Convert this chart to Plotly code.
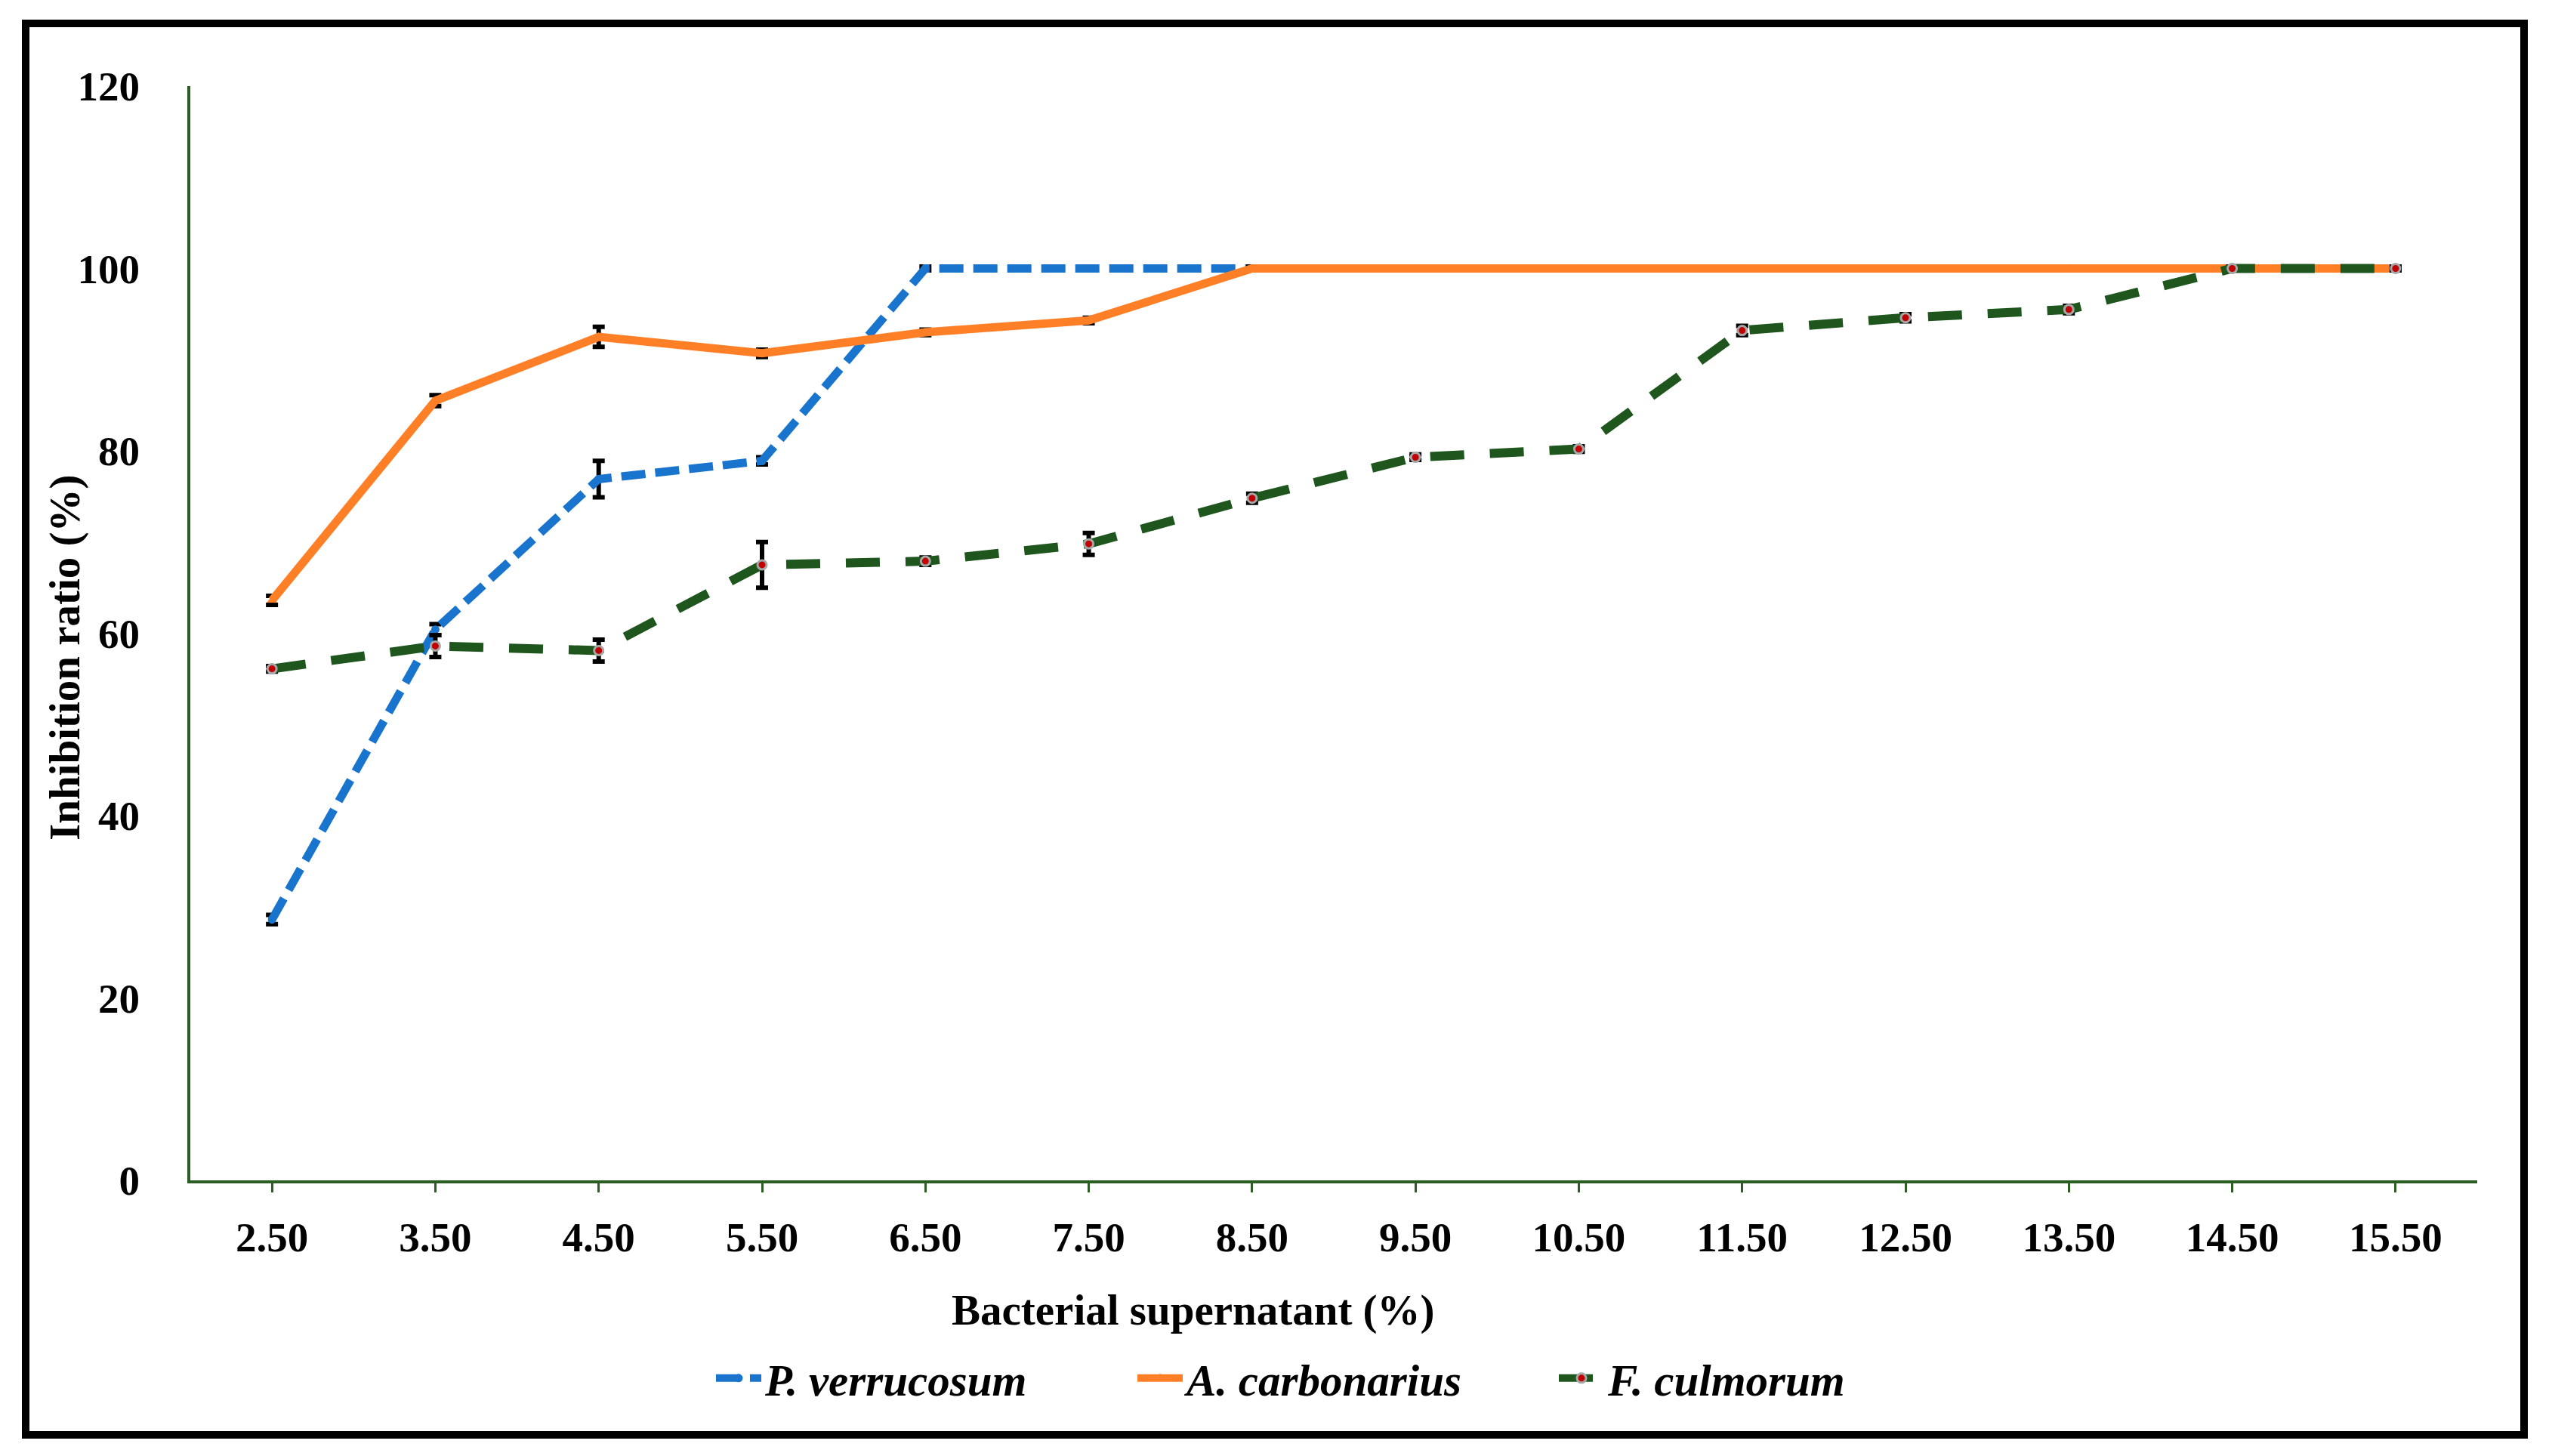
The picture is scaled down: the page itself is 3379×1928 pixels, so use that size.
import plotly.graph_objects as go

# ---- data ----
concentrations = ["2.50", "3.50", "4.50", "5.50", "6.50", "7.50", "8.50",
                  "9.50", "10.50", "11.50", "12.50", "13.50", "14.50", "15.50"]
p_verrucosum = [28.6, 60.4, 76.9, 78.9, 100, 100, 100, 100, 100, 100, 100, 100, 100, 100]
p_verrucosum_err = [0.5, 0.6, 2.0, 0.4, 0.2, 0.2, 0.2, 0.2, 0.2, 0.2, 0.2, 0.2, 0.2, 0.2]
a_carbonarius = [63.6, 85.5, 92.5, 90.7, 93.0, 94.3, 100, 100, 100, 100, 100, 100, 100, 100]
a_carbonarius_err = [0.5, 0.6, 1.1, 0.4, 0.3, 0.3, 0.2, 0.2, 0.2, 0.2, 0.2, 0.2, 0.2, 0.2]
f_culmorum = [56.1, 58.6, 58.1, 67.5, 67.9, 69.8, 74.8, 79.3, 80.2, 93.2, 94.6, 95.5, 100, 100]
f_culmorum_err = [0.3, 1.2, 1.2, 2.5, 0.4, 1.2, 0.5, 0.3, 0.3, 0.5, 0.4, 0.4, 0.2, 0.2]

W, H = 3379, 1928
OFF = 8  # default page body margin
# plot area in page pixels: x 252..3280, y 114..1563
L, T = 252 - OFF, 114 - OFF
R, B = W - (3280 - OFF), H - (1563 - OFF)
PW, PH = W - L - R, H - T - B

FONT = "Liberation Serif"
AXIS_GREEN = "#2a5e22"

def px_x(p):
    return (p - OFF - L) / PW

def px_y(p):
    return (H - B - (p - OFF)) / PH

ERR = dict(type="data", color="black", thickness=6, width=8)

fig = go.Figure()

fig.add_trace(go.Scatter(
    x=concentrations, y=p_verrucosum, name="<i>P. verrucosum</i>",
    mode="lines+markers",
    line=dict(color="#1874cd", width=11, dash="32px,13px"),
    marker=dict(color="#1874cd", size=11, symbol="circle"),
    error_y=dict(array=p_verrucosum_err, **ERR),
))
fig.add_trace(go.Scatter(
    x=concentrations, y=a_carbonarius, name="<i>A. carbonarius</i>",
    mode="lines+markers",
    line=dict(color="#ff7f27", width=11),
    marker=dict(color="#ff7f27", size=12, symbol="triangle-up"),
    error_y=dict(array=a_carbonarius_err, **ERR),
))
fig.add_trace(go.Scatter(
    x=concentrations, y=f_culmorum, name="<i>F. culmorum</i>",
    mode="lines+markers",
    line=dict(color="#1e561e", width=12, dash="45px,34px"),
    marker=dict(color="#c00000", size=12, symbol="circle",
                line=dict(color="#a6a6a6", width=3)),
    error_y=dict(array=f_culmorum_err, **ERR),
))

fig.update_layout(
    width=W, height=H,
    margin=dict(l=L, r=R, t=T, b=B, autoexpand=False),
    paper_bgcolor="white", plot_bgcolor="white",
    font=dict(family=FONT, size=55, color="black"),
    showlegend=True,
    legend=dict(orientation="h", x=px_x(1780), xanchor="center",
                y=px_y(1825), yanchor="middle",
                font=dict(family=FONT, size=59, color="black", weight="bold"),
                entrywidth=483, entrywidthmode="pixels",
                itemwidth=60, tracegroupgap=0),
    xaxis=dict(
        type="category", range=[-0.5, 13.5], automargin=False,
        showline=True, linecolor=AXIS_GREEN, linewidth=4,
        ticks="outside", ticklen=12, tickwidth=3, tickcolor=AXIS_GREEN,
        ticklabelstandoff=12,
        tickfont=dict(family=FONT, size=55, color="black", weight="bold"),
        showgrid=False, zeroline=False,
    ),
    yaxis=dict(
        range=[0, 120], dtick=20, tick0=0, automargin=False,
        showline=True, linecolor=AXIS_GREEN, linewidth=4,
        ticks="", ticklabelstandoff=52,
        tickfont=dict(family=FONT, size=55, color="black", weight="bold"),
        showgrid=False, zeroline=False,
    ),
    annotations=[
        dict(text="<b>Bacterial supernatant (%)</b>", xref="paper", yref="paper",
             x=px_x(1580), y=px_y(1735), xanchor="center", yanchor="middle",
             showarrow=False, font=dict(family=FONT, size=57, color="black")),
        dict(text="<b>Inhibition ratio (%)</b>", xref="paper", yref="paper",
             x=px_x(86), y=px_y(871), xanchor="center", yanchor="middle",
             textangle=-90, showarrow=False,
             font=dict(family=FONT, size=57, color="black")),
    ],
    shapes=[dict(type="rect", xref="paper", yref="paper",
                 x0=px_x(34), x1=px_x(3342), y0=px_y(1900), y1=px_y(31),
                 line=dict(color="black", width=10), fillcolor="rgba(0,0,0,0)",
                 layer="below")],
)

fig.write_html("out.html")
